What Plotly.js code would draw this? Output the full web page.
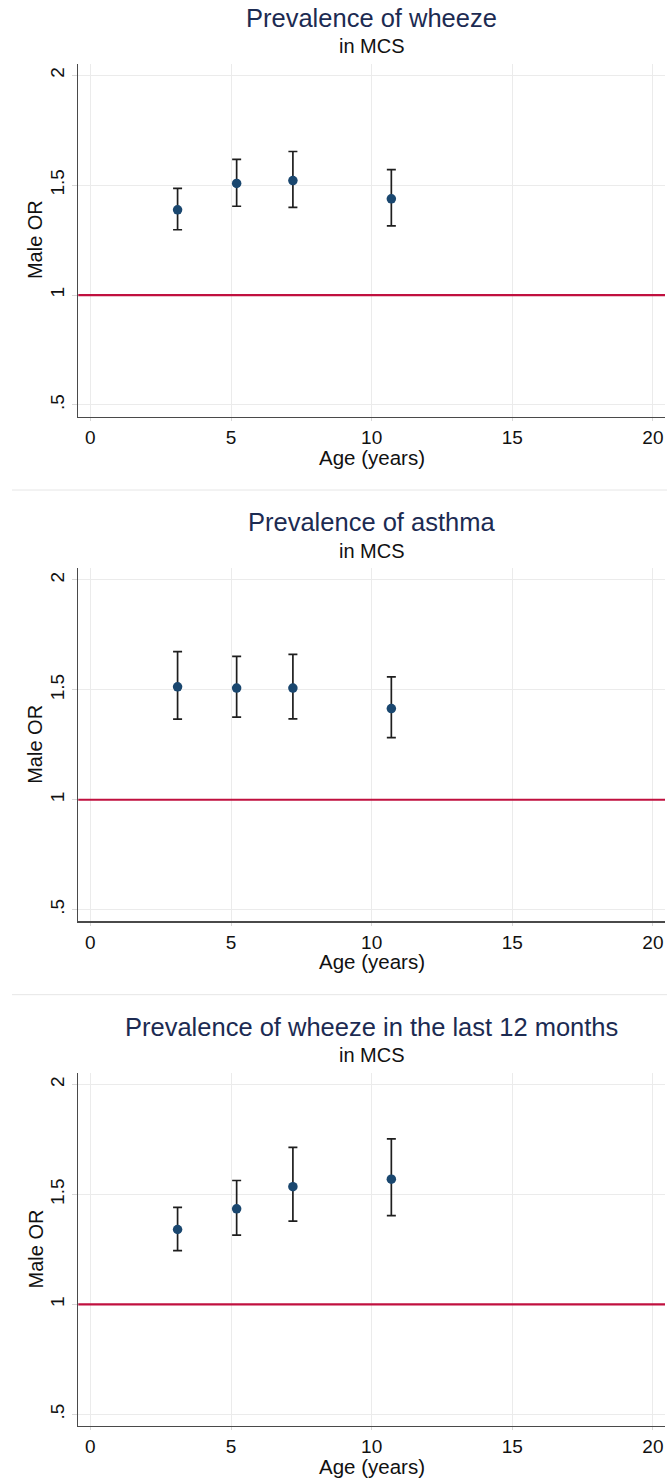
<!DOCTYPE html>
<html>
<head>
<meta charset="utf-8">
<script src="https://cdn.plot.ly/plotly-3.0.1.min.js"></script>
<style>html,body{margin:0;padding:0;background:#fff;}#chart{width:667px;height:1481px;}</style>
</head>
<body>
<div id="chart"></div>
<script>
// ---- data ----
const panelTitles = ["Prevalence of wheeze", "Prevalence of asthma", "Prevalence of wheeze in the last 12 months"];
const panelSubtitle = "in MCS";
const ages = [3.1, 5.2, 7.2, 10.7];

const wheezeOR  = [1.388, 1.508, 1.521, 1.438];
const wheezeLo  = [1.297, 1.404, 1.399, 1.315];
const wheezeHi  = [1.485, 1.617, 1.653, 1.571];

const asthmaOR  = [1.514, 1.508, 1.508, 1.415];
const asthmaLo  = [1.367, 1.376, 1.368, 1.283];
const asthmaHi  = [1.674, 1.652, 1.661, 1.559];

const wheeze12OR = [1.341, 1.435, 1.536, 1.570];
const wheeze12Lo = [1.245, 1.315, 1.379, 1.404];
const wheeze12Hi = [1.442, 1.564, 1.715, 1.753];

const xTickVals = [0, 5, 10, 15, 20];
const xTickText = ["0", "5", "10", "15", "20"];
const yTickVals = [0.5, 1, 1.5, 2];
const yTickText = [".5", "1", "1.5", "2"];
const refLine = 1;
const xTitle = "Age (years)";
const yTitle = "Male OR";

// ---- layout geometry ----
const W = 667, H = 1481;
const FONT = "Arial, 'Liberation Sans', Helvetica, sans-serif";
const panels = [
  {or: wheezeOR, lo: wheezeLo, hi: wheezeHi},
  {or: asthmaOR, lo: asthmaLo, hi: asthmaHi},
  {or: wheeze12OR, lo: wheeze12Lo, hi: wheeze12Hi}
];
const STEP = 504.7;
const plotTop = 63.6, plotBottom = 416.6;
const xDom = [78.3 / W, 665 / W];
const py = px => 1 - px / H;

const data = [];
const layout = {
  width: W, height: H,
  margin: {l: 0, r: 0, t: 0, b: 0},
  paper_bgcolor: "#ffffff", plot_bgcolor: "#ffffff",
  showlegend: false,
  font: {family: FONT, color: "#111111", size: 19},
  annotations: [], shapes: []
};

panels.forEach((p, i) => {
  const sfx = i === 0 ? "" : String(i + 1);
  const off = STEP * i;
  data.push({
    type: "scatter", mode: "markers",
    x: ages, y: p.or,
    xaxis: "x" + sfx, yaxis: "y" + sfx,
    marker: {color: "#1a476f", size: 9.5},
    error_y: {
      type: "data", symmetric: false,
      array: p.hi.map((h, k) => h - p.or[k]),
      arrayminus: p.lo.map((l, k) => p.or[k] - l),
      color: "#1e1e1e", thickness: 1.7, width: 4.5
    },
    hoverinfo: "x+y"
  });
  const xa = {
    domain: xDom, anchor: "y" + sfx,
    range: [-0.43, 20.43], tickmode: "array",
    tickvals: xTickVals, ticktext: xTickText,
    showgrid: true, gridcolor: "#ebebeb", gridwidth: 1,
    zeroline: false, showline: true, linecolor: "#4a4a4a", linewidth: 1.4,
    ticks: "outside", ticklen: 3, tickcolor: "#d8d8d8", tickwidth: 1,
    tickfont: {family: FONT, size: 19, color: "#111111"},
    fixedrange: true
  };
  const ya = {
    domain: [py(plotBottom + off), py(plotTop + off)], anchor: "x" + sfx,
    range: [0.447, 2.053], tickmode: "array",
    tickvals: yTickVals, ticktext: yTickText, tickangle: -90,
    showgrid: true, gridcolor: "#ebebeb", gridwidth: 1,
    zeroline: false, showline: true, linecolor: "#4a4a4a", linewidth: 1.4,
    ticks: "outside", ticklen: 5, tickcolor: "#d8d8d8", tickwidth: 1,
    tickfont: {family: FONT, size: 19, color: "#111111"},
    fixedrange: true
  };
  layout["xaxis" + sfx] = xa;
  layout["yaxis" + sfx] = ya;

  // reference line at OR = 1
  layout.shapes.push({
    type: "line", xref: "x" + sfx + " domain", yref: "y" + sfx,
    x0: 0, x1: 1, y0: refLine, y1: refLine,
    line: {color: "#c0103f", width: 2.2}, layer: "above"
  });

  // titles
  layout.annotations.push({
    text: panelTitles[i], xref: "paper", yref: "paper",
    x: (xDom[0] + xDom[1]) / 2, y: py(17.5 + off),
    xanchor: "center", yanchor: "middle", showarrow: false,
    font: {family: FONT, size: 25.5, color: "#1c2b52"}
  });
  layout.annotations.push({
    text: panelSubtitle, xref: "paper", yref: "paper",
    x: (xDom[0] + xDom[1]) / 2, y: py(46 + off),
    xanchor: "center", yanchor: "middle", showarrow: false,
    font: {family: FONT, size: 20, color: "#111111"}
  });
  // axis titles
  layout.annotations.push({
    text: xTitle, xref: "paper", yref: "paper",
    x: (xDom[0] + xDom[1]) / 2, y: py(457 + off),
    xanchor: "center", yanchor: "middle", showarrow: false,
    font: {family: FONT, size: 20.5, color: "#111111"}
  });
  layout.annotations.push({
    text: yTitle, xref: "paper", yref: "paper", textangle: -90,
    x: 35 / W, y: py((plotTop + plotBottom) / 2 + off),
    xanchor: "center", yanchor: "middle", showarrow: false,
    font: {family: FONT, size: 20, color: "#111111"}
  });
  // separator between panels
  if (i < 2) {
    layout.shapes.push({
      type: "line", xref: "paper", yref: "paper",
      x0: 12 / W, x1: 1, y0: py(490 + off), y1: py(490 + off),
      line: {color: "#e6e6e6", width: 1}
    });
  }
});

Plotly.newPlot("chart", data, layout, {displayModeBar: false, staticPlot: true});
</script>
</body>
</html>
